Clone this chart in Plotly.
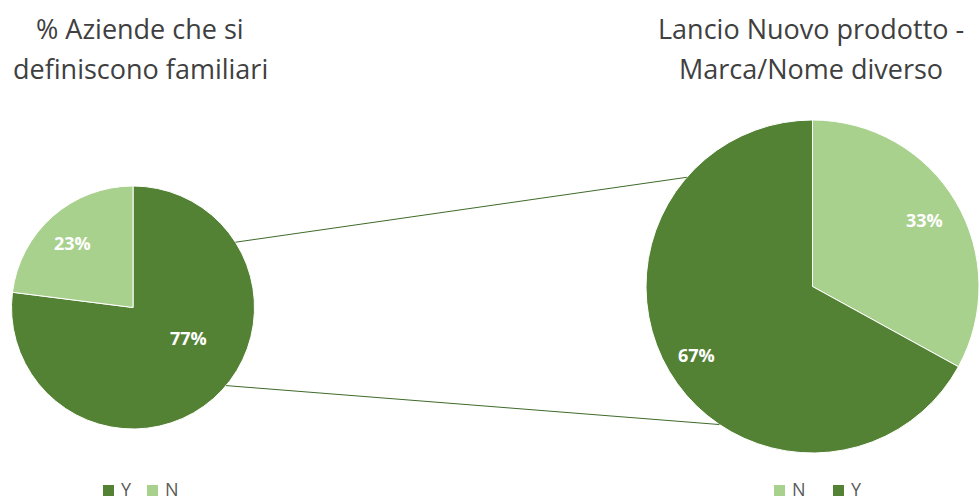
import math
import plotly.graph_objects as go

W, H = 979, 500

# Data
left_title = ["% Aziende che si", "definiscono familiari"]
left_labels = ["Y", "N"]
left_values = [77, 23]

right_title = ["Lancio Nuovo prodotto -", "Marca/Nome diverso"]
right_labels = ["N", "Y"]
right_values = [33, 67]

DARK = "#548235"
LIGHT = "#A9D18E"
colors = {"Y": DARK, "N": LIGHT}
FONT = "Open Sans"
TEXT_GREY = "#404040"

# Pie placement in pixels: (left, top, right, bottom)
left_box = (11, 186, 255, 429)
right_box = (646, 119, 979, 454)

# Percentage label placement per slice: (angle shift in deg, fraction of radius)
left_label_pos = [(20, 0.52), (2, 0.73)]
right_label_pos = [(0, 0.78), (0, 0.81)]


def dom(box):
    l, t, r, b = box
    return dict(x=[l / W, r / W], y=[1 - b / H, 1 - t / H])


def circle(box):
    l, t, r, b = box
    rad = min(r - l, b - t) / 2
    return (l + r) / 2, (t + b) / 2, rad


def pt(box, ang_deg, frac=1.0):
    cx, cy, rad = circle(box)
    a = math.radians(ang_deg)
    return (cx + frac * rad * math.cos(a)) / W, 1 - (cy - frac * rad * math.sin(a)) / H


fig = go.Figure()
annotations = []

for labels, values, box, lpos in [(left_labels, left_values, left_box, left_label_pos),
                                  (right_labels, right_values, right_box, right_label_pos)]:
    fig.add_trace(go.Pie(
        labels=labels, values=values, sort=False, direction="clockwise",
        rotation=0, domain=dom(box), showlegend=False,
        marker=dict(colors=[colors[l] for l in labels], line=dict(color="white", width=1)),
        textinfo="none", hoverinfo="label+percent",
    ))
    total = sum(values)
    start = 0.0
    for v, (shift, frac) in zip(values, lpos):
        mid = start + v / total * 180.0
        start += v / total * 360.0
        ang = 90 - mid + shift
        x, y = pt(box, ang, frac)
        annotations.append(dict(
            text=f"{round(v / total * 100)}%", x=x, y=y, xref="paper", yref="paper",
            xanchor="center", yanchor="middle", showarrow=False,
            font=dict(family=FONT, size=18, color="white", weight="bold"),
        ))

# connector lines between the two pies
shapes = []
for a_left, a_right in [(32.5, 139), (-40, -124)]:
    x0, y0 = pt(left_box, a_left)
    x1, y1 = pt(right_box, a_right)
    shapes.append(dict(type="line", xref="paper", yref="paper", x0=x0, y0=y0, x1=x1, y1=y1,
                       line=dict(color="#3E6B2A", width=1)))

# titles, one annotation per line
title_font = dict(family=FONT, size=27, color=TEXT_GREY)
for lines, cx in [(left_title, 140), (right_title, 811)]:
    for i, line in enumerate(lines):
        annotations.append(dict(
            text=line, x=cx / W, y=1 - (28 + 40 * i) / H, xref="paper", yref="paper",
            showarrow=False, font=title_font, xanchor="center", yanchor="middle",
        ))

# legends: small squares with labels below each pie
for labels, x0, step in [(left_labels, 103, 44), (right_labels, 774, 59)]:
    x = x0
    for lab in labels:
        shapes.append(dict(type="rect", xref="paper", yref="paper",
                           x0=x / W, x1=(x + 11) / W, y0=1 - 496 / H, y1=1 - 485 / H,
                           fillcolor=colors[lab], line=dict(width=0)))
        annotations.append(dict(
            text=lab, x=(x + 17) / W, y=0, xref="paper", yref="paper",
            showarrow=False, xanchor="left", yanchor="bottom", borderpad=0, yshift=-2,
            font=dict(family=FONT, size=18, color="#595959"),
        ))
        x += step

fig.update_layout(
    width=W, height=H, margin=dict(l=0, r=0, t=0, b=0),
    paper_bgcolor="white", plot_bgcolor="white",
    shapes=shapes, annotations=annotations, showlegend=False,
)

fig.write_html("out.html")
